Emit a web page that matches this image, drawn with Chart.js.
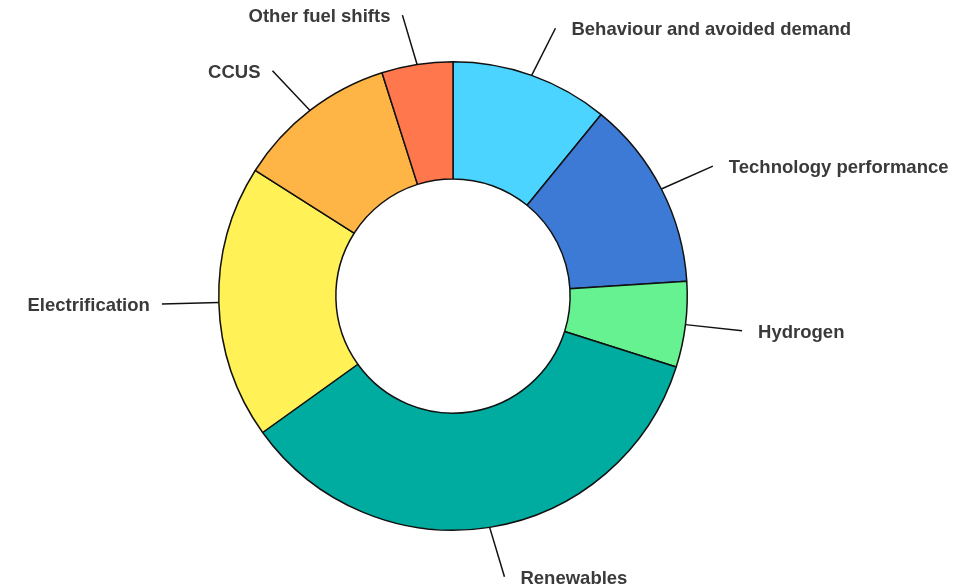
<!DOCTYPE html>
<html lang="en">
<head>
    <meta charset="UTF-8">
    <title>Doughnut</title>
    <style>
        body { margin: 0; background: #fff; }
    </style>
</head>
<body>
    <canvas id="myChart" width="977" height="586"></canvas>
    <script src="https://cdn.jsdelivr.net/npm/chart.js"></script>
    <script>
        const labels = ['Behaviour and avoided demand', 'Technology performance', 'Hydrogen', 'Renewables', 'Electrification', 'CCUS', 'Other fuel shifts'];
        const values = [10.9, 13.1, 5.9, 35.2, 18.9, 11.1, 4.9];
        const colours = ['#4AD4FF', '#3D7AD6', '#66F291', '#00AB9F', '#FFF156', '#FFB545', '#FF774D'];

        // leader lines + labels outside the ring
        const outsideLabels = {
            id: 'outsideLabels',
            afterDatasetsDraw(chart) {
                const ctx = chart.ctx;
                const meta = chart.getDatasetMeta(0);
                ctx.save();
                ctx.font = 'bold 18.5px "Liberation Sans", Arial, sans-serif';
                ctx.textBaseline = 'middle';
                meta.data.forEach((arc, i) => {
                    const mid = (arc.startAngle + arc.endAngle) / 2;
                    const cos = Math.cos(mid), sin = Math.sin(mid);
                    const side = cos >= 0 ? 1 : -1;
                    const x1 = arc.x + cos * arc.outerRadius;
                    const y1 = arc.y + sin * arc.outerRadius;
                    const x2 = x1 + cos * 50 + side * 7;
                    const y2 = y1 + sin * 50;
                    ctx.strokeStyle = '#111';
                    ctx.lineWidth = 1.5;
                    ctx.beginPath();
                    ctx.moveTo(x1, y1);
                    ctx.lineTo(x2, y2);
                    ctx.stroke();
                    ctx.fillStyle = '#3a3a3a';
                    if (side > 0) {
                        ctx.textAlign = 'left';
                        ctx.fillText(labels[i], x2 + 16, y2 + 2);
                    } else {
                        ctx.textAlign = 'right';
                        ctx.fillText(labels[i], x2 - 12, y2 + 2);
                    }
                });
                ctx.restore();
            }
        };

        new Chart(document.getElementById('myChart'), {
            type: 'doughnut',
            data: {
                labels: labels,
                datasets: [{
                    data: values,
                    backgroundColor: colours,
                    borderColor: '#111',
                    borderWidth: 1.5
                }]
            },
            options: {
                responsive: false,
                animation: false,
                cutout: '50%',
                layout: { padding: { left: 218, right: 289, top: 61, bottom: 55 } },
                plugins: {
                    legend: { display: false },
                    tooltip: { enabled: false }
                }
            },
            plugins: [outsideLabels]
        });
    </script>
</body>
</html>
